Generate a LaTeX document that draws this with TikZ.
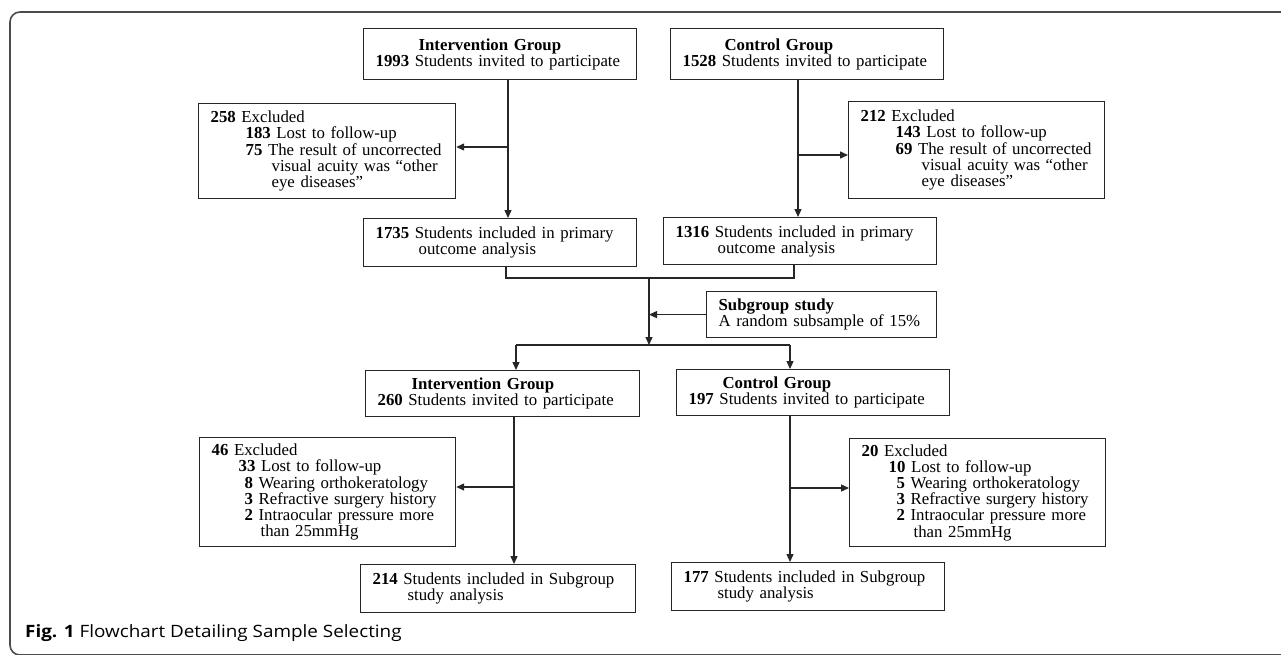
\documentclass[tikz,border=0pt]{standalone}
\usepackage{fontspec}
\setmainfont{Liberation Serif}
\newfontfamily\captionfont[FakeStretch=1.11]{Open Sans}
\usepackage{tikz}
\usetikzlibrary{arrows.meta,positioning}

\begin{document}
\begin{tikzpicture}[
    x=1pt, y=-1pt,
    box/.style={
        rectangle, draw=black!85, line width=1.2pt,
        anchor=north west, inner xsep=12pt, inner ysep=0pt,
        align=left, font=\fontsize{16.8}{16.2}\selectfont
    },
    arrow/.style={
        -{Triangle[length=8pt,width=7pt]}, line width=1.3pt, draw=black!85
    },
    line/.style={
        line width=1.3pt, draw=black!85
    },
    frame/.style={
        draw=black!70, line width=1.6pt, rounded corners=10pt
    }
]
\useasboundingbox (0,0) rectangle (1281,654);

% Frame
\begin{scope}
    \clip (0,0) rectangle (1281,654);
    \draw[frame] (10,12) rectangle (1300,655);
\end{scope}

% Nodes: whole cohort
\node[box, text width=249pt, minimum height=51pt] (intv) at (363,28)
    {\hspace*{43pt}\textbf{Intervention Group}\\
     \textbf{1993} Students invited to participate};
\node[box, text width=249pt, minimum height=51pt] (ctrl) at (670,28)
    {\hspace*{42pt}\textbf{Control Group}\\
     \textbf{1528} Students invited to participate};
\node[box, text width=233pt, minimum height=95pt] (intvexcl) at (198,103)
    {\textbf{258} Excluded\\
     \hspace*{35pt}\textbf{183} Lost to follow-up\\
     \hspace*{35pt}\textbf{75} The result of uncorrected\\
     \hspace*{61pt}\makebox[170pt][s]{visual acuity was “other}\\
     \hspace*{61pt}eye diseases”};
\node[box, text width=232pt, minimum height=97pt] (ctrlexcl) at (848,101)
    {\textbf{212} Excluded\\
     \hspace*{35pt}\textbf{143} Lost to follow-up\\
     \hspace*{35pt}\textbf{69} The result of uncorrected\\
     \hspace*{61pt}\makebox[170pt][s]{visual acuity was “other}\\
     \hspace*{61pt}eye diseases”};
\node[box, text width=249pt, minimum height=48pt] (intvincl) at (363,218)
    {\textbf{1735} Students included in primary\\
     \hspace*{43pt}outcome analysis};
\node[box, text width=249pt, minimum height=47pt] (ctrlincl) at (663,217)
    {\textbf{1316} Students included in primary\\
     \hspace*{42pt}outcome analysis};

% Nodes: subgroup
\node[box, text width=206pt, minimum height=46pt] (subgroup) at (706,291)
    {\textbf{Subgroup study}\\
     A random subsample of 15\%};
\node[box, text width=250pt, minimum height=46pt] (subintv) at (365,370)
    {\hspace*{34pt}\textbf{Intervention Group}\\
     \textbf{260} Students invited to participate};
\node[box, text width=249pt, minimum height=46pt] (subctrl) at (676,369)
    {\hspace*{34pt}\textbf{Control Group}\\
     \textbf{197} Students invited to participate};
\node[box, text width=232pt, minimum height=109pt] (subintvexcl) at (199,437)
    {\textbf{46} Excluded\\
     \hspace*{27pt}\textbf{33} Lost to follow-up\\
     \hspace*{33pt}\textbf{8} Wearing orthokeratology\\
     \hspace*{33pt}\textbf{3} Refractive surgery history\\
     \hspace*{33pt}\makebox[199pt][s]{\textbf{2} Intraocular pressure more}\\
     \hspace*{49pt}than 25mmHg};
\node[box, text width=232pt, minimum height=108pt] (subctrlexcl) at (849,438)
    {\textbf{20} Excluded\\
     \hspace*{27pt}\textbf{10} Lost to follow-up\\
     \hspace*{35pt}\textbf{5} Wearing orthokeratology\\
     \hspace*{35pt}\textbf{3} Refractive surgery history\\
     \hspace*{35pt}\makebox[196pt][s]{\textbf{2} Intraocular pressure more}\\
     \hspace*{52pt}than 25mmHg};
\node[box, text width=251pt, minimum height=48pt] (subintvincl) at (360,564)
    {\makebox[249pt][s]{\textbf{214} Students included in Subgroup}\\
     \hspace*{35pt}study analysis};
\node[box, text width=249pt, minimum height=48pt] (subctrlincl) at (671,562)
    {\makebox[248pt][s]{\textbf{177} Students included in Subgroup}\\
     \hspace*{34pt}study analysis};

% Caption
\node[anchor=base west, inner sep=0pt, font=\captionfont\fontsize{17}{20}\selectfont] (caption) at (25,637)
    {\textbf{Fig. 1} Flowchart Detailing Sample Selecting};

% Junctions
\coordinate (jA) at (508,147);
\coordinate (jB) at (798,155);
\coordinate (mergeL) at (506,278);
\coordinate (mergeR) at (794,278);
\coordinate (mid) at (649,278);
\coordinate (split) at (649,345);
\coordinate (splitL) at (516,345);
\coordinate (splitR) at (790,345);
\coordinate (jC) at (514,487);
\coordinate (jD) at (790,488);

% Arrows
\draw[arrow] (intv.south -| jA) -- (intvincl.north -| jA);
\draw[arrow] (jA) -- (intvexcl.east |- jA);
\draw[arrow] (ctrl.south -| jB) -- (ctrlincl.north -| jB);
\draw[arrow] (jB) -- (ctrlexcl.west |- jB);
\draw[line] (intvincl.south -| mergeL) |- (mergeR) -- (ctrlincl.south -| mergeR);
\draw[arrow] (mid) -- (split);
\draw[arrow] (subgroup.west) -- (subgroup.west -| mid);
\draw[line] (splitL) -- (splitR);
\draw[arrow] (splitL) -- (subintv.north -| splitL);
\draw[arrow] (splitR) -- (subctrl.north -| splitR);
\draw[arrow] (subintv.south -| jC) -- (subintvincl.north -| jC);
\draw[arrow] (jC) -- (subintvexcl.east |- jC);
\draw[arrow] (subctrl.south -| jD) -- (subctrlincl.north -| jD);
\draw[arrow] (jD) -- (subctrlexcl.west |- jD);

\end{tikzpicture}
\end{document}
